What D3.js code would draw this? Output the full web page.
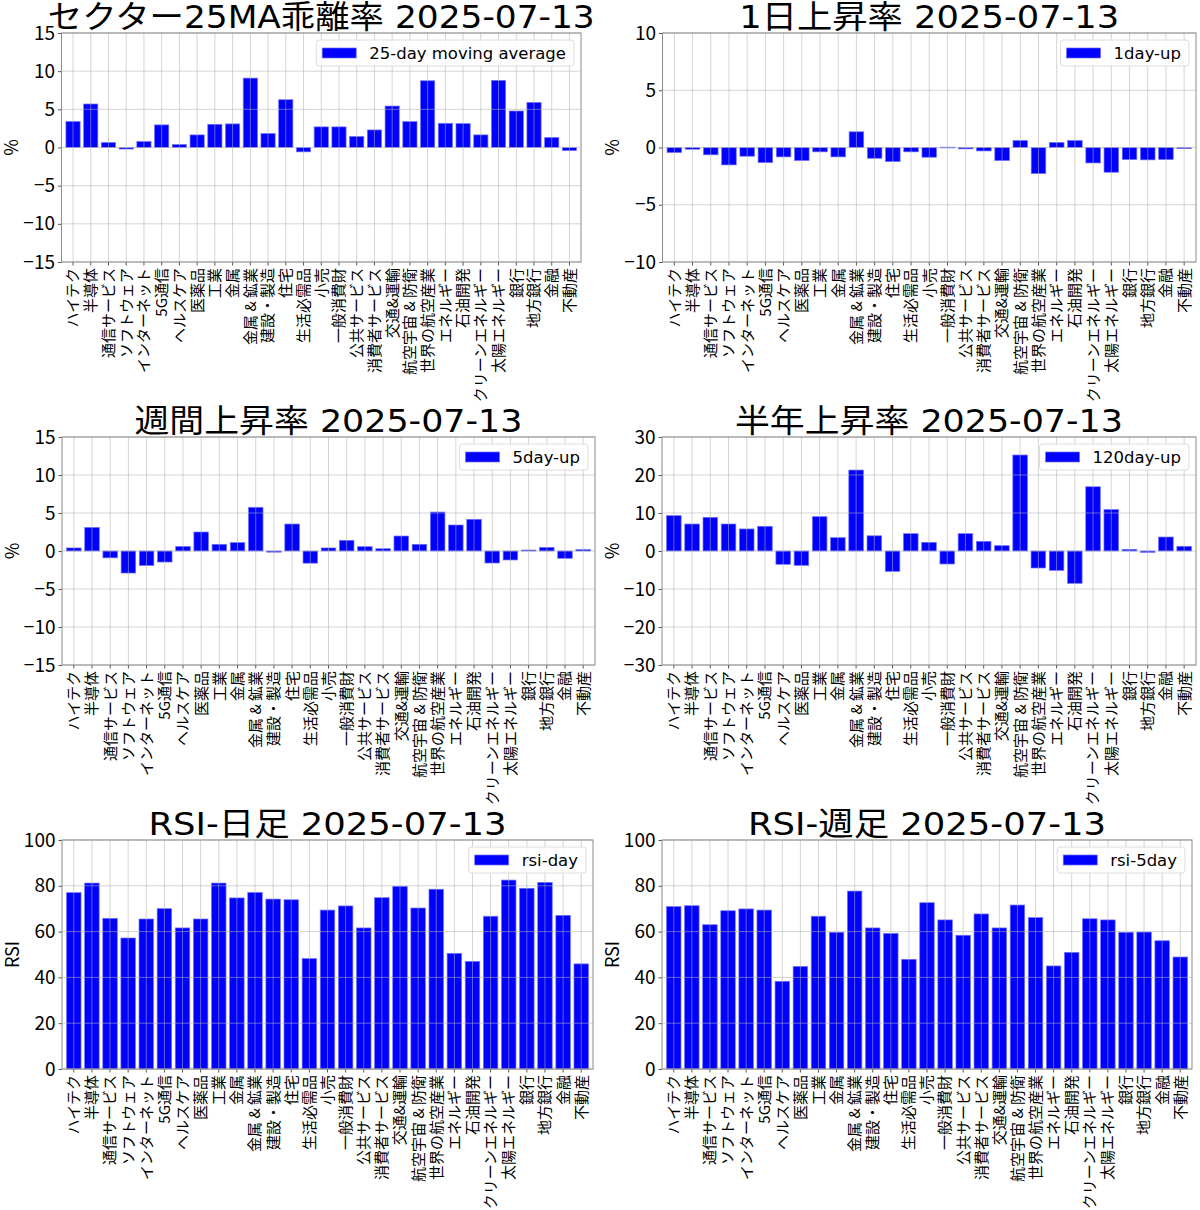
<!DOCTYPE html>
<html><head><meta charset="utf-8">
<script src="https://cdn.jsdelivr.net/npm/d3@7"></script>
<style>
body{margin:0;background:#fff}
svg{font-family:"Noto Sans CJK JP","Noto Sans",sans-serif}
</style>
</head><body>
<svg id="c" width="1200" height="1210"></svg>
<script>
const categories = ["ハイテク","半導体","通信サービス","ソフトウェア","インターネット","5G通信","ヘルスケア","医薬品","工業","金属","金属 & 鉱業","建設・製造","住宅","生活必需品","小売","一般消費財","公共サービス","消費者サービス","交通&運輸","航空宇宙 & 防衛","世界の航空産業","エネルギー","石油開発","クリーンエネルギー","太陽エネルギー","銀行","地方銀行","金融","不動産"];

const ma25Values   = [3.4,5.7,0.65,-0.2,0.78,2.96,0.39,1.65,3.04,3.09,9.09,1.83,6.26,-0.57,2.7,2.7,1.43,2.3,5.43,3.39,8.74,3.17,3.13,1.65,8.78,4.78,5.91,1.3,-0.4];
const day1Values   = [-0.44,-0.15,-0.64,-1.52,-0.76,-1.32,-0.82,-1.14,-0.38,-0.82,1.37,-0.94,-1.23,-0.38,-0.85,0.03,-0.12,-0.3,-1.14,0.61,-2.28,0.44,0.61,-1.35,-2.16,-1.05,-1.08,-1.05,-0.1];
const day5Values   = [0.4,3.1,-0.9,-2.9,-1.9,-1.45,0.6,2.5,0.88,1.1,5.75,-0.15,3.55,-1.6,0.4,1.4,0.57,0.3,1.97,0.88,5.13,3.42,4.17,-1.58,-1.18,0.13,0.48,-0.96,0.18];
const day120Values = [9.3,7.1,8.86,7.1,5.8,6.5,-3.5,-3.77,9.03,3.5,21.3,4.0,-5.35,4.56,2.28,-3.42,4.56,2.54,1.4,25.26,-4.47,-5.1,-8.5,16.9,10.9,0.44,-0.35,3.68,1.23];
const rsiDayValues = [77.0,81.2,65.8,57.2,65.5,70.0,61.6,65.5,81.2,74.7,77.1,74.2,73.9,48.2,69.4,71.2,61.6,74.8,79.8,70.3,78.5,50.5,47.0,66.7,82.5,78.9,81.5,67.1,45.9];
const rsiWeekValues= [70.9,71.3,63.0,69.1,69.9,69.4,38.3,44.8,66.7,59.7,77.7,61.6,59.2,47.9,72.6,65.1,58.4,67.7,61.6,71.6,66.1,45.0,50.9,65.6,65.1,59.7,59.8,56.0,48.9];

const ticks15  = [-15,-10,-5,0,5,10,15];
const ticks10  = [-10,-5,0,5,10];
const ticks30  = [-30,-20,-10,0,10,20,30];
const ticksRsi = [0,20,40,60,80,100];

const titles  = ["セクター25MA乖離率 2025-07-13","1日上昇率 2025-07-13","週間上昇率 2025-07-13","半年上昇率 2025-07-13","RSI-日足 2025-07-13","RSI-週足 2025-07-13"];
const legends = ["25-day moving average","1day-up","5day-up","120day-up","rsi-day","rsi-5day"];
const yLabels = ["%","%","%","%","RSI","RSI"];

const panels = [
  {values: ma25Values,    domain:[-15,15], ticks: ticks15,  box:{L:61.5,R:581,T:33,B:262},  tw:547},
  {values: day1Values,    domain:[-10,10], ticks: ticks10,  box:{L:662.5,R:1196,T:33,B:262}, tw:380},
  {values: day5Values,    domain:[-15,15], ticks: ticks15,  box:{L:62,R:595,T:437,B:665},   tw:388},
  {values: day120Values,  domain:[-30,30], ticks: ticks30,  box:{L:662,R:1196,T:437,B:665}, tw:388},
  {values: rsiDayValues,  domain:[0,100],  ticks: ticksRsi, box:{L:62,R:593,T:840,B:1069},  tw:358},
  {values: rsiWeekValues, domain:[0,100],  ticks: ticksRsi, box:{L:662,R:1192,T:840,B:1069}, tw:358}
];

const svg = d3.select("#c");
const BLUE = "#0000ff";
const WIDE = '"DejaVu Sans","Noto Sans CJK JP",sans-serif';
const fmt = d => d < 0 ? "\u2212" + Math.abs(d) : String(d);

panels.forEach((p, i) => {
  const {L,R,T,B} = p.box;
  const g = svg.append("g");
  const x = d3.scaleBand().domain(categories).range([L,R]).paddingInner(0.2).paddingOuter(0.25);
  const y = d3.scaleLinear().domain(p.domain).range([B,T]);

  // bars
  g.append("g").selectAll("rect").data(p.values).join("rect")
    .attr("x", (d,j) => x(categories[j]))
    .attr("width", x.bandwidth())
    .attr("y", d => y(Math.max(0,d)))
    .attr("height", d => Math.max(0.8, Math.abs(y(d) - y(0))))
    .attr("fill", BLUE)
    .attr("stroke", "#7070ff").attr("stroke-width", 0.7);

  // grid (above bars, like matplotlib)
  const grid = g.append("g").attr("stroke","#b0b0b0").attr("stroke-opacity",0.55).attr("stroke-width",1);
  grid.selectAll("line.h").data(p.ticks).join("line").attr("class","h")
    .attr("x1",L).attr("x2",R).attr("y1",d=>y(d)).attr("y2",d=>y(d));
  grid.selectAll("line.v").data(categories).join("line").attr("class","v")
    .attr("x1",d=>x(d)+x.bandwidth()/2).attr("x2",d=>x(d)+x.bandwidth()/2).attr("y1",T).attr("y2",B);

  // axes
  const ya = g.append("g").attr("transform",`translate(${L},0)`)
    .call(d3.axisLeft(y).tickValues(p.ticks).tickFormat(fmt).tickSize(3.5).tickPadding(3));
  ya.select(".domain").remove();
  ya.selectAll("line").attr("stroke","#555");
  ya.selectAll("text").attr("font-size",19).attr("fill","#000")
    .style("font-family",'"Noto Sans CJK JP",sans-serif');

  const xa = g.append("g").attr("transform",`translate(0,${B})`)
    .call(d3.axisBottom(x).tickSize(3.5));
  xa.select(".domain").remove();
  xa.selectAll("line").attr("stroke","#555");
  xa.selectAll("text")
    .attr("transform","rotate(-90)")
    .attr("x",-6).attr("y",0).attr("dy","0.36em")
    .style("text-anchor","end")
    .attr("font-size",15).attr("fill","#000")
    .style("font-family",'"Noto Sans CJK JP",sans-serif');

  // spines
  g.append("rect").attr("x",L).attr("y",T).attr("width",R-L).attr("height",B-T)
    .attr("fill","none").attr("stroke","#8c8c8c").attr("stroke-width",1);

  // title
  g.append("text").attr("x",(L+R)/2).attr("y",T-5)
    .attr("text-anchor","middle").attr("font-size",32).attr("fill","#000")
    .style("font-family",WIDE)
    .attr("textLength",p.tw).attr("lengthAdjust","spacingAndGlyphs")
    .text(titles[i]);

  // y label
  const lx = L - 49.5;
  g.append("text").attr("transform",`translate(${lx},${(T+B)/2}) rotate(-90)`)
    .attr("text-anchor","middle").attr("dy","0.35em").attr("font-size",18).attr("fill","#000")
    .text(yLabels[i]);

  // legend
  const lg = g.append("g");
  const txt = lg.append("text").attr("font-size",16.5).attr("fill","#000")
    .style("font-family",WIDE).text(legends[i]);
  const tw = txt.node().getComputedTextLength();
  const bw = 6 + 34 + 13 + tw + 8, bh = 26;
  const bx = R - 7 - bw, by = T + 7;
  lg.insert("rect","text").attr("x",bx).attr("y",by).attr("width",bw).attr("height",bh)
    .attr("rx",3).attr("fill","#fff").attr("fill-opacity",0.85).attr("stroke","#dcdcdc").attr("stroke-width",1);
  lg.insert("rect","text").attr("x",bx+6).attr("y",by+bh/2-5).attr("width",34).attr("height",10)
    .attr("fill",BLUE).attr("stroke","#7070ff").attr("stroke-width",0.7);
  txt.attr("x",bx+6+34+13).attr("y",by+bh/2).attr("dy","0.36em");
});
</script>
</body></html>
